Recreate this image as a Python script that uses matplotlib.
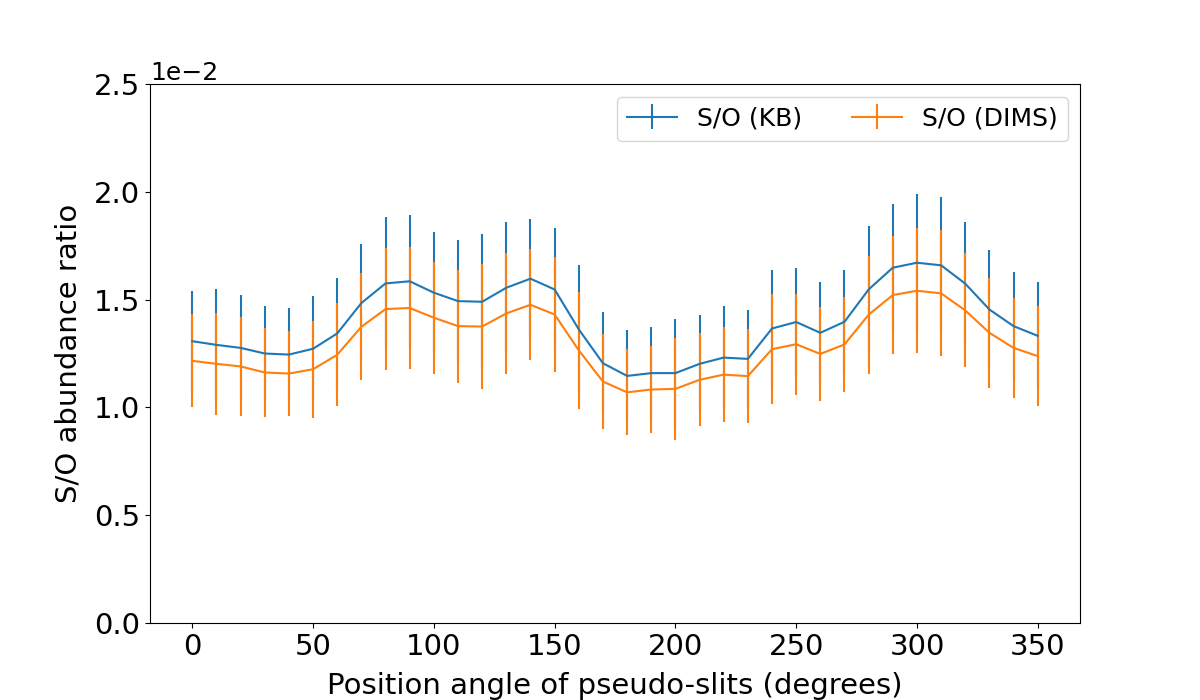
import numpy as np
import matplotlib
matplotlib.use('Agg')
import matplotlib.pyplot as plt

# 位置角（度）
angles = np.arange(0, 360, 10)

# S/O (KB)
so_kb = [1.307, 1.290, 1.276, 1.250, 1.245, 1.272, 1.343, 1.484, 1.575, 1.585,
         1.532, 1.493, 1.490, 1.555, 1.597, 1.547, 1.362, 1.205, 1.146, 1.159,
         1.159, 1.202, 1.231, 1.225, 1.366, 1.396, 1.346, 1.397, 1.547, 1.648,
         1.671, 1.659, 1.574, 1.454, 1.377, 1.332]
so_kb_err = [0.231, 0.257, 0.244, 0.218, 0.214, 0.243, 0.256, 0.273, 0.307, 0.306,
             0.280, 0.282, 0.313, 0.304, 0.276, 0.284, 0.297, 0.236, 0.211, 0.216,
             0.249, 0.225, 0.237, 0.229, 0.271, 0.249, 0.234, 0.239, 0.293, 0.294,
             0.318, 0.316, 0.285, 0.275, 0.249, 0.248]

# S/O (DIMS)
so_dims = [1.216, 1.202, 1.190, 1.162, 1.157, 1.177, 1.244, 1.374, 1.456, 1.461,
           1.416, 1.377, 1.375, 1.436, 1.476, 1.431, 1.265, 1.120, 1.070, 1.083,
           1.086, 1.128, 1.152, 1.145, 1.270, 1.293, 1.248, 1.292, 1.430, 1.521,
           1.541, 1.529, 1.450, 1.346, 1.276, 1.238]
so_dims_err = [0.215, 0.238, 0.228, 0.206, 0.199, 0.225, 0.239, 0.248, 0.283, 0.285,
               0.259, 0.262, 0.290, 0.281, 0.257, 0.265, 0.271, 0.222, 0.200, 0.204,
               0.236, 0.215, 0.222, 0.218, 0.255, 0.235, 0.218, 0.222, 0.273, 0.273,
               0.290, 0.292, 0.264, 0.255, 0.232, 0.232]

scale = 1e-2

fig, ax = plt.subplots(figsize=(12, 7), dpi=100)

ax.errorbar(angles, np.array(so_kb) * scale, yerr=np.array(so_kb_err) * scale,
            label='S/O (KB)', linewidth=1.5)
ax.errorbar(angles, np.array(so_dims) * scale, yerr=np.array(so_dims_err) * scale,
            label='S/O (DIMS)', linewidth=1.5)

ax.set_ylim(0, 0.025)
ax.ticklabel_format(axis='y', style='sci', scilimits=(0, 0))
ax.tick_params(labelsize=21)
ax.yaxis.get_offset_text().set_fontsize(18)
ax.set_xlabel('Position angle of pseudo-slits (degrees)', fontsize=21, labelpad=8)
ax.set_ylabel('S/O abundance ratio', fontsize=21, labelpad=8)
ax.legend(ncol=2, fontsize=18, loc='upper right')

plt.savefig('out.png')
